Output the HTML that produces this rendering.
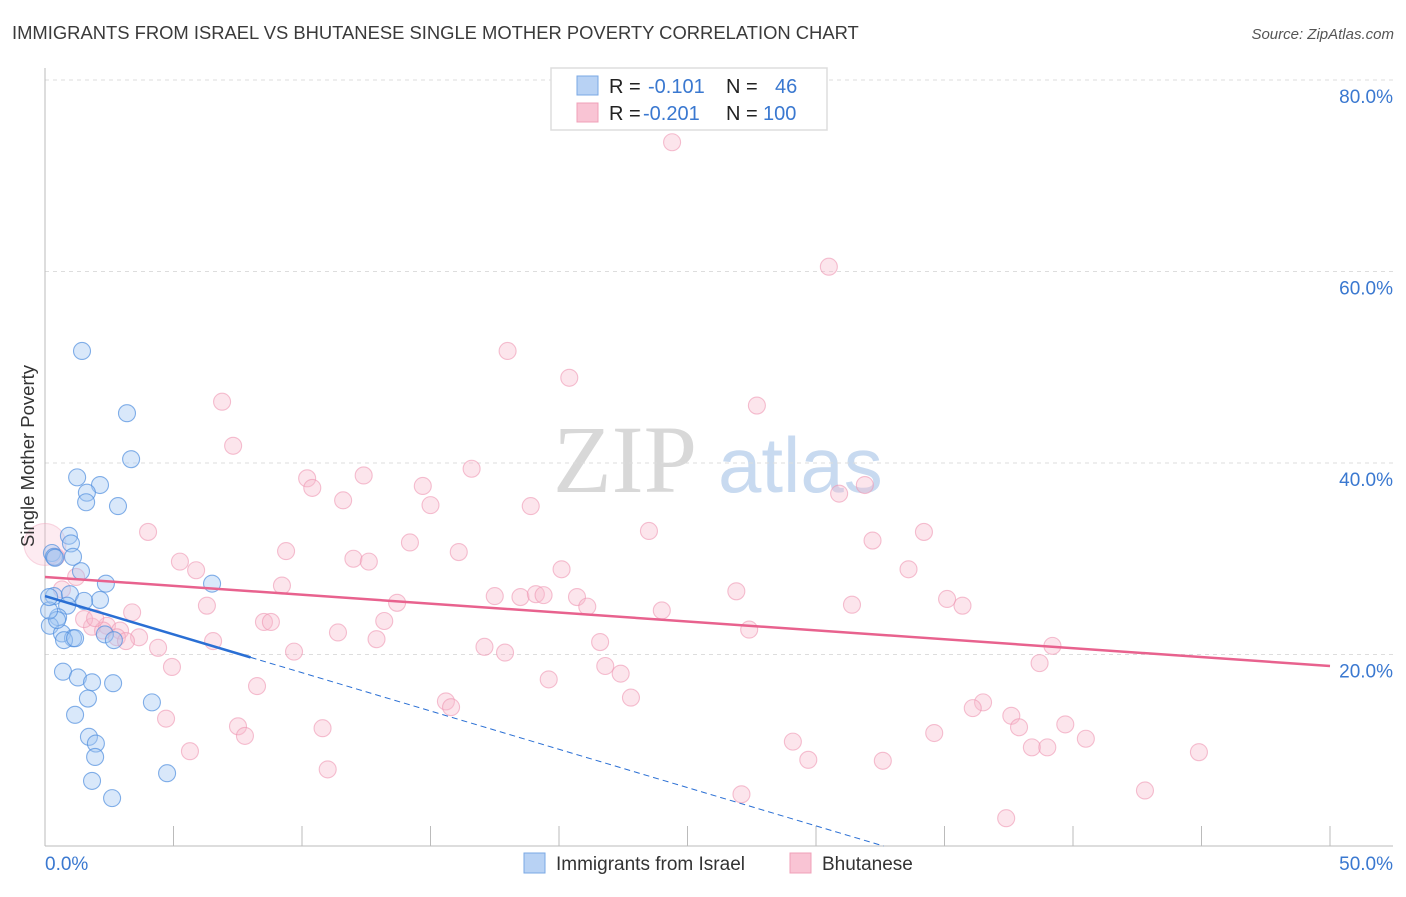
<!DOCTYPE html>
<html><head><meta charset="utf-8"><style>
body{margin:0;background:#fff;font-family:"Liberation Sans",sans-serif;}
svg text{font-family:"Liberation Sans",sans-serif;}
</style></head><body>
<svg id="chart" width="1406" height="892" viewBox="0 0 1406 892" xmlns="http://www.w3.org/2000/svg">
<text x="12" y="39" font-size="18.4" fill="#3a3a3a">IMMIGRANTS FROM ISRAEL VS BHUTANESE SINGLE MOTHER POVERTY CORRELATION CHART</text>
<text x="1394" y="39" font-size="15" fill="#555" font-style="italic" text-anchor="end">Source: ZipAtlas.com</text>
<g>
<text x="553" y="492" font-size="96" fill="#d8d8d8" font-family="Liberation Serif" style="font-family:'Liberation Serif',serif">ZIP</text>
<text x="718" y="492" font-size="78" fill="#c8daf0">atlas</text>
</g>
<g id="grid"></g>
<g id="axes"></g>
<g id="marks"></g>
<text transform="translate(34,456) rotate(-90)" font-size="18.5" fill="#333" text-anchor="middle">Single Mother Poverty</text>
<g>
<rect x="551" y="68" width="276" height="62" fill="#fff" stroke="#ddd" stroke-width="1.5"/>
<rect x="577" y="76" width="21" height="19" fill="#b8d2f4" stroke="#7aa8e4"/>
<rect x="577" y="103" width="21" height="19" fill="#f9c4d4" stroke="#f0a0b8"/>
<text x="609" y="93" font-size="20" fill="#222">R =</text><text x="648" y="93" font-size="20" fill="#3a78d0">-0.101</text>
<text x="726" y="93" font-size="20" fill="#222">N =</text><text x="775" y="93" font-size="20" fill="#3a78d0">46</text>
<text x="609" y="120" font-size="20" fill="#222">R =</text><text x="643" y="120" font-size="20" fill="#3a78d0">-0.201</text>
<text x="726" y="120" font-size="20" fill="#222">N =</text><text x="763" y="120" font-size="20" fill="#3a78d0">100</text>
</g>
<g>
<rect x="524" y="853" width="21" height="20" fill="#b8d2f4" stroke="#7aa8e4"/>
<text x="556" y="870" font-size="19" fill="#333">Immigrants from Israel</text>
<rect x="790" y="853" width="21" height="20" fill="#f9c4d4" stroke="#f0a0b8"/>
<text x="822" y="870" font-size="19" fill="#333">Bhutanese</text>
</g>
</svg>
<script>
const yTicks=[20,40,60,80];
const yTickLabels=["20.0%","40.0%","60.0%","80.0%"];
const xTickVals=[0,5,10,15,20,25,30,35,40,45,50];
const israelX=[1.44,3.19,3.35,1.25,2.14,1.63,1.60,2.84,0.93,1.01,0.27,0.35,1.09,1.40,2.37,6.50,0.35,0.97,2.14,1.52,0.86,0.51,0.19,0.66,0.47,1.09,0.74,1.17,2.33,2.68,0.70,1.28,1.83,2.65,4.16,1.67,1.71,1.98,1.95,4.75,1.83,2.61,0.39,0.16,0.16,1.17];
const israelY=[51.7,45.2,40.4,38.5,37.7,36.9,35.9,35.5,32.4,31.6,30.6,30.2,30.2,28.7,27.4,27.4,26.1,26.3,25.7,25.6,25.1,23.9,23.0,22.2,23.6,21.7,21.5,21.7,22.1,21.5,18.2,17.6,17.1,17.0,15.0,15.4,11.4,10.7,9.3,7.6,6.8,5.0,30.1,24.6,26.0,13.7];
const bhutanX=[24.4,30.5,18.0,20.4,27.7,6.89,7.32,16.6,10.2,12.4,10.4,14.7,11.6,15.0,18.9,30.9,31.9,4.01,23.5,34.2,32.2,9.38,14.2,16.1,12.0,12.6,5.25,5.88,20.1,33.6,9.22,26.9,17.5,18.5,19.1,19.4,20.7,21.1,24.0,31.4,6.30,13.7,35.1,35.7,3.39,8.52,8.79,13.2,11.4,12.9,6.54,1.83,2.41,2.92,3.66,4.40,21.6,27.4,17.1,17.9,39.2,9.69,4.94,21.8,38.7,22.4,19.6,8.25,22.8,15.6,15.8,36.5,36.1,4.71,37.6,37.9,39.7,7.51,7.78,10.8,34.6,40.5,29.1,38.4,39.0,5.64,44.9,29.7,32.6,11.0,27.1,42.8,37.4,1.52,0.43,1.21,0.66,2.26,2.80,1.95,3.15,0.0];
const bhutanY=[73.5,60.5,51.7,48.9,46.0,46.4,41.8,39.4,38.4,38.7,37.4,37.6,36.1,35.6,35.5,36.8,37.7,32.8,32.9,32.8,31.9,30.8,31.7,30.7,30.0,29.7,29.7,28.8,28.9,28.9,27.2,26.6,26.1,26.0,26.3,26.2,26.0,25.0,24.6,25.2,25.1,25.4,25.8,25.1,24.4,23.4,23.4,23.5,22.3,21.6,21.4,22.9,23.0,22.5,21.8,20.7,21.3,22.6,20.8,20.2,20.9,20.3,18.7,18.8,19.1,18.0,17.4,16.7,15.5,15.1,14.5,15.0,14.4,13.3,13.6,12.4,12.7,12.5,11.5,12.3,11.8,11.2,10.9,10.3,10.3,9.9,9.8,9.0,8.9,8.0,5.4,5.8,2.9,23.7,30.2,28.1,26.8,22.5,21.8,23.8,21.4,31.5];
const bhutanBig=[101];
const israelTrend=[26.1,-0.80];
const bhutanTrend=[28.1,-0.186];
const israelSolidEnd=8.0;
const X0=45,X1=1330,Y0=846,PXY=9.575;
const sx=v=>X0+v*(X1-X0)/50;
const sy=v=>Y0-v*PXY;
const NS="http://www.w3.org/2000/svg";
function mk(parent,tag,attrs){const e=document.createElementNS(NS,tag);for(const k in attrs)e.setAttribute(k,attrs[k]);parent.appendChild(e);return e;}
const grid=document.getElementById('grid'),axes=document.getElementById('axes'),marks=document.getElementById('marks');
yTicks.forEach((t,i)=>{
 const l=mk(grid,'line',{x1:X0,x2:1393,y1:sy(t),y2:sy(t),stroke:'#ddd','stroke-dasharray':'4,4'});
 
 
 const tx=mk(grid,'text',{x:1393,y:sy(t)+23,'font-size':19,fill:'#3a78d0','text-anchor':'end'});
 tx.textContent=yTickLabels[i];
 
 
});
const al=mk(axes,'line',{x1:X0,x2:X0,y1:68,y2:Y0,stroke:'#bbb'});


const ab=mk(axes,'line',{x1:X0,x2:1393,y1:Y0,y2:Y0,stroke:'#bbb'});


xTickVals.forEach(v=>{
 const t=mk(axes,'line',{x1:sx(v),x2:sx(v),y1:Y0-20,y2:Y0,stroke:'#bbb'});
 
 
});
const xl0=mk(axes,'text',{x:45,y:870,'font-size':19,fill:'#3a78d0'});xl0.textContent='0.0%';


const xl1=mk(axes,'text',{x:1393,y:870,'font-size':19,fill:'#3a78d0','text-anchor':'end'});xl1.textContent='50.0%';


bhutanX.forEach((x,i)=>{
 const big=bhutanBig.includes(i);
 const c=mk(marks,'circle',{cx:sx(x),cy:sy(bhutanY[i]),r:big?21:8.5,fill:big?'rgba(248,190,208,0.3)':'rgba(248,186,205,0.38)',stroke:big?'rgba(240,160,185,0.4)':'rgba(238,150,178,0.6)','stroke-width':1.1});
 
 
});
israelX.forEach((x,i)=>{
 const c=mk(marks,'circle',{cx:sx(x),cy:sy(israelY[i]),r:8.5,fill:'rgba(165,200,242,0.42)',stroke:'rgba(80,142,222,0.7)','stroke-width':1.1});
 
 
});
const bt=mk(marks,'line',{x1:sx(0),y1:sy(bhutanTrend[0]),x2:sx(50),y2:sy(bhutanTrend[0]+50*bhutanTrend[1]),stroke:'#e8628e','stroke-width':2.5});


const it=mk(marks,'line',{x1:sx(0),y1:sy(israelTrend[0]),x2:sx(israelSolidEnd),y2:sy(israelTrend[0]+israelSolidEnd*israelTrend[1]),stroke:'#2a6fd4','stroke-width':2.5});


const xEnd=-israelTrend[0]/israelTrend[1];
const id=mk(marks,'line',{x1:sx(israelSolidEnd),y1:sy(israelTrend[0]+israelSolidEnd*israelTrend[1]),x2:sx(xEnd),y2:sy(0),stroke:'#2a6fd4','stroke-width':1,'stroke-dasharray':'6,4'});


</script>
</body></html>
